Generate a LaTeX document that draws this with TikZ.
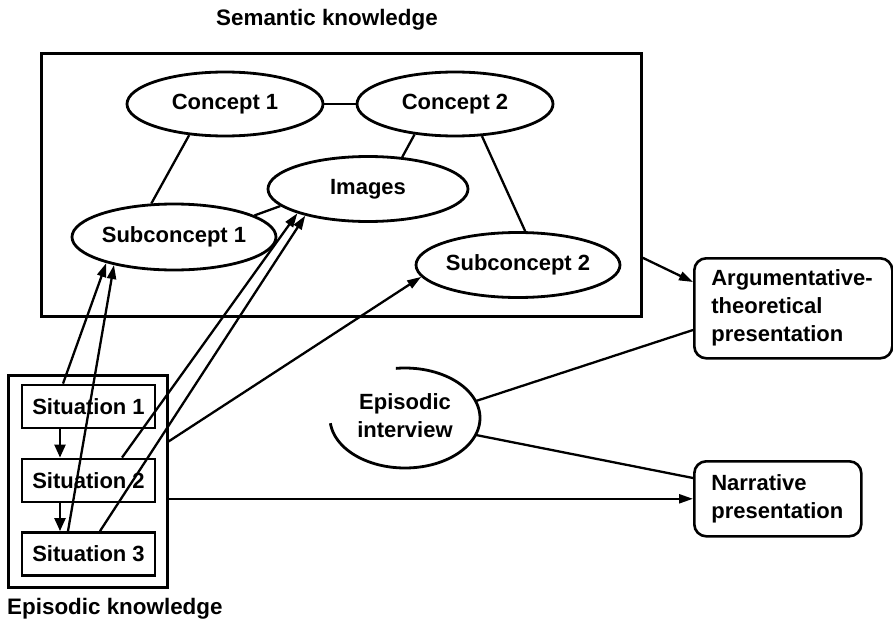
\documentclass[tikz,border=0pt]{standalone}
\usepackage{fontspec}
\setmainfont{Liberation Sans}
\usetikzlibrary{shapes.geometric,arrows.meta,calc}
\begin{document}
\begin{tikzpicture}[x=1pt,y=-1pt,
  every node/.style={font=\fontsize{22}{28}\selectfont\bfseries},
  titletext/.style={font=\fontsize{22.4}{28}\selectfont\bfseries},
  ell/.style={ellipse,draw,line width=2.8pt,inner sep=0pt},
  sitbox/.style={rectangle,draw,line width=2.8pt,minimum width=133pt,minimum height=43pt,inner sep=0pt},
  presbox/.style={rectangle,rounded corners=12pt,draw,line width=2.6pt,align=left,anchor=north west,inner xsep=17pt,inner ysep=0pt},
  conn/.style={line width=2.3pt},
  arr/.style={line width=2.3pt,-{Triangle[length=14pt,width=9pt]}},
  sarr/.style={line width=2.3pt,-{Triangle[length=13pt,width=11pt]}}]
\useasboundingbox (0,0) rectangle (893,623);

% semantic knowledge
\node (semtitle) [titletext] at (327,20) {Semantic knowledge};
\node (sem) [rectangle,draw,line width=2.8pt,minimum width=600pt,minimum height=263pt,anchor=north west,inner sep=0pt] at (40,52) {};
\node (c1) [ell,minimum width=196pt,minimum height=64pt] at (225,104) {Concept 1};
\node (c2) [ell,minimum width=196pt,minimum height=64pt] at (455,104) {Concept 2};
\node (img) [ell,minimum width=200pt,minimum height=65pt] at (368,189) {Images};
\node (s1) [ell,minimum width=198pt,minimum height=66pt] at (174,237) {Subconcept 1};
\node (s2) [ell,minimum width=200pt,minimum height=65pt] at (518,265) {Subconcept 2};

\draw[conn] (c1) -- (c2);
\draw[conn] (c1.221) -- (s1.124);
\draw[conn] (c2.217) -- (img.43);
\draw[conn] (c2.310) -- (s2.78);
\draw[conn] (s1.15) -- (img.191);

% presentations
\node (arg) [presbox,text width=164pt,minimum height=100pt] at (693,257) {Argumentative-\\theoretical\\presentation};
\node (nar) [presbox,text width=133pt,minimum height=75pt] at (693,460) {Narrative\\presentation};

% episodic interview
\node (epi) [align=center,inner sep=0pt] at (405,416) {Episodic\\interview};
\draw[line width=2.8pt] plot[domain=-97:174,samples=90,smooth] ({405+75*cos(\x)},{418+50*sin(\x)});
\coordinate (epiA) at (476,401);
\coordinate (epiB) at (476,435);
\draw[conn] (epiA) -- ($(arg.north west)+(0,73)$);
\draw[conn] (epiB) -- ($(nar.north west)+(0,18)$);

% episodic knowledge
\node (epbox) [rectangle,draw,line width=3pt,minimum width=159pt,minimum height=212pt,inner sep=0pt] at (87.5,481) {};
\node (sit1) [sitbox] at (88.5,406.5) {Situation 1};
\node (sit2) [sitbox] at (88.5,480.5) {Situation 2};
\node (sit3) [sitbox] at (88.5,554) {Situation 3};
\node (eptitle) [titletext,anchor=west,inner sep=0pt] at (7,609) {Episodic knowledge};

\draw[sarr] ([xshift=-28.5pt]sit1.south) -- ([xshift=-28.5pt]sit2.north);
\draw[sarr] ([xshift=-28.5pt]sit2.south) -- ([xshift=-28.5pt]sit3.north);

% connectors episodic -> semantic
\draw[arr] ([xshift=-25.5pt]sit1.north) -- (s1.201);
\draw[arr] ([xshift=-20.5pt]sit3.north) -- (s1.205);
\draw[arr] ([xshift=33.5pt]sit2.north) -- (img.199);
\draw[arr] ([xshift=11.5pt]sit3.north) -- (img.203);
\draw[arr] ($(epbox.north east)+(0,68)$) -- (s2.187);
\draw[arr] (epbox.east |- nar.west) -- (nar.west);
\draw[arr] ($(sem.south east)+(0,-60)$) -- ($(arg.north west)+(0,25)$);
\end{tikzpicture}
\end{document}
